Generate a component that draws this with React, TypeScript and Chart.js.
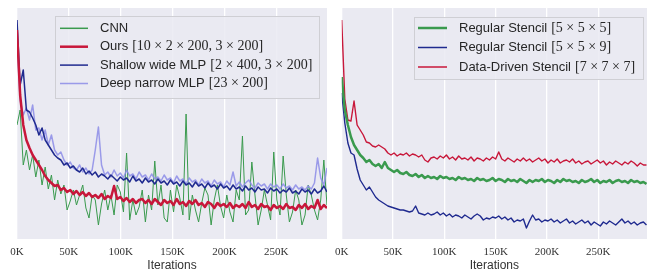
import React, { useEffect, useRef } from 'react';
import { Chart, registerables } from 'chart.js';
Chart.register(...registerables);

// ---------- tick labels / axis ----------
const xTicksK = [0, 50, 100, 150, 200, 250];
const xTitle = 'Iterations';
const leftMaxK = 299;
const rightMaxK = 297.5;
const leftStepK = 3.02;
const rightStepK = 3;

// ---------- left panel: legend labels ----------
const leftNames = ['CNN', 'Ours', 'Shallow wide MLP', 'Deep narrow MLP'];
const leftDims = ['', '[10 × 2 × 200, 3 × 200]', '[2 × 400, 3 × 200]', '[23 × 200]'];

// ---------- left panel: series (arbitrary loss units) ----------
const leftCNN = [
  114, 129, 74, 89, 69, 84, 62, 79, 54, 72,
  50, 64, 39, 59, 45, 54, 29, 38, 49, 34,
  44, 54, 31, 21, 44, 39, 14, 35, 49, 29,
  44, 24, 54, 47, 27, 86, 19, 39, 24, 32,
  49, 17, 44, 29, 78, 34, 54, 21, 17, 49,
  27, 54, 41, 24, 125, 19, 44, 29, 17, 36,
  51, 44, 14, 39, 54, 33, 21, 44, 27, 17,
  49, 39, 103, 24, 29, 77, 44, 14, 29, 49,
  34, 19, 87, 39, 24, 83, 44, 17, 27, 49,
  39, 14, 24, 54, 44, 29, 19, 39, 79, 34,
];
const leftOurs = [
  209, 144, 114, 99, 91, 84, 79, 74, 69, 63,
  59, 56, 53, 54, 49, 51, 47, 49, 45, 48,
  44, 47, 43, 46, 42, 44, 41, 45, 40, 43,
  41, 53, 40, 42, 38, 41, 37, 40, 36, 39,
  40, 36, 39, 35, 40, 37, 34, 39, 36, 38,
  34, 40, 35, 37, 33, 38, 35, 39, 34, 36,
  32, 37, 35, 31, 36, 33, 35, 32, 36, 31,
  34, 32, 35, 31, 37, 32, 34, 30, 35, 32,
  33, 29, 34, 31, 33, 30, 35, 31, 32, 29,
  34, 31, 35, 30, 33, 31, 39, 30, 34, 31,
];
const leftShallow = [
  219, 154, 169, 129, 127, 121, 114, 104, 111, 99,
  94, 89, 84, 81, 79, 74, 76, 71, 73, 69,
  67, 71, 65, 68, 64, 67, 62, 65, 63, 60,
  64, 61, 58, 62, 59, 61, 57, 63, 58, 60,
  56, 61, 57, 59, 55, 60, 56, 58, 54, 59,
  55, 57, 53, 58, 54, 56, 52, 57, 53, 55,
  51, 56, 52, 54, 50, 55, 51, 53, 49, 54,
  50, 52, 48, 53, 49, 51, 47, 52, 49, 50,
  46, 51, 48, 50, 46, 49, 47, 51, 46, 48,
  45, 50, 47, 49, 45, 50, 46, 48, 53, 47,
];
const leftDeep = [
  199, 139, 124, 131, 119, 134, 109, 111, 99, 109,
  94, 104, 89, 84, 87, 79, 74, 77, 71, 69,
  74, 67, 71, 65, 69, 89, 112, 74, 64, 67,
  62, 69, 63, 66, 61, 69, 63, 65, 60, 67,
  62, 64, 59, 65, 60, 62, 58, 64, 59, 61,
  56, 63, 58, 60, 55, 61, 57, 59, 54, 60,
  56, 58, 53, 59, 55, 57, 52, 58, 54, 67,
  53, 57, 52, 56, 59, 54, 51, 56, 53, 55,
  50, 55, 52, 54, 50, 55, 51, 53, 49, 54,
  50, 52, 49, 53, 50, 56, 81, 61, 54, 71,
];

// ---------- right panel: legend labels ----------
const rightNames = ['Regular Stencil', 'Regular Stencil', 'Data-Driven Stencil'];
const rightDims = ['[5 × 5 × 5]', '[5 × 5 × 9]', '[7 × 7 × 7]'];

// ---------- right panel: series ----------
const rightReg555 = [
  162, 129, 114, 102, 94, 89, 84, 81, 77, 79,
  75, 73, 75, 71, 77, 71, 69, 67, 69, 66,
  65, 67, 64, 63, 65, 62, 64, 61, 63, 61,
  62, 60, 63, 61, 62, 60, 61, 59, 62, 60,
  61, 59, 60, 58, 61, 59, 60, 58, 59, 61,
  58, 60, 59, 57, 60, 58, 59, 57, 60, 58,
  56, 59, 57, 59, 58, 60, 57, 59, 58, 56,
  59, 57, 60, 58, 59, 57, 58, 56, 59, 57,
  58, 60, 57, 59, 56, 58, 57, 59, 56, 58,
  59, 57, 58, 56, 59, 57, 58, 56, 57, 55,
];
const rightReg559 = [
  146, 116, 96, 86, 84, 70, 59, 54, 49, 52,
  47, 42, 39, 37, 35, 33, 32, 31, 30, 29,
  29, 28, 27, 28, 33, 26, 25, 24, 26, 24,
  25, 27, 24, 26, 23, 25, 22, 24, 23, 21,
  24, 22, 20, 23, 25, 23, 19, 21, 20, 22,
  21, 23, 20, 22, 19, 21, 17, 19, 18, 20,
  11, 18, 24, 19, 20, 17, 19, 18, 20, 17,
  19, 16, 18, 20, 16, 18, 15, 17, 19, 16,
  18, 14, 17, 15, 13, 17, 15, 18, 16, 14,
  17, 20, 16, 18, 15, 17, 14, 16, 17, 14,
];
const rightDataDriven = [
  219, 140, 119, 118, 138, 114, 109, 104, 97, 96,
  93, 92, 94, 92, 90, 86, 84, 86, 83, 85,
  84, 86, 83, 85, 84, 82, 84, 79, 77, 81,
  82, 80, 83, 81, 84, 80, 82, 79, 83, 80,
  81, 79, 82, 78, 81, 80, 78, 81, 79, 82,
  80, 87, 80, 78, 81, 79, 77, 80, 78, 81,
  78, 80, 77, 79, 81, 78, 80, 76, 79, 77,
  80, 76, 78, 79, 77, 80, 76, 78, 75, 77,
  78, 75, 77, 79, 76, 78, 74, 77, 75, 78,
  76, 74, 77, 75, 78, 76, 73, 76, 74, 74,
];

// ---------- colours ----------
const GREEN = '#3a9a4e';
const RED = '#c8173a';
const NAVY = '#1f2a8f';
const LAVENDER = 'rgba(140,140,232,0.85)';
const BG = '#EAEAF2';

const NAME_FONT = '13px "Liberation Sans", Arial, sans-serif';
const DIM_FONT = '14px "Liberation Serif", "Times New Roman", serif';

function toPoints(values: number[], step: number) {
  return values.map((v, i) => ({ x: i * step, y: v }));
}

const bgPlugin = {
  id: 'panelBg',
  beforeDraw(chart: any) {
    const { ctx, chartArea } = chart;
    ctx.save();
    ctx.fillStyle = BG;
    ctx.fillRect(chartArea.left, chartArea.top, chartArea.right - chartArea.left, chartArea.bottom - chartArea.top);
    ctx.restore();
  },
};

type LegendItem = { name: string; dims: string; color: string; width: number };
type LegendCfg = {
  dx: number; dy: number; height: number; padL: number; lineLen: number; gap: number;
  padR: number; firstRow: number; rowH: number; space: number;
};

function makeLegend(items: LegendItem[], cfg: LegendCfg) {
  return {
    id: 'boxLegend',
    afterDraw(chart: any) {
      const { ctx, chartArea } = chart;
      ctx.save();
      let maxW = 0;
      items.forEach((it) => {
        ctx.font = NAME_FONT;
        let w = ctx.measureText(it.name).width;
        if (it.dims) {
          ctx.font = DIM_FONT;
          w += cfg.space + ctx.measureText(it.dims).width;
        }
        maxW = Math.max(maxW, w);
      });
      const x0 = Math.round(chartArea.left + cfg.dx);
      const y0 = Math.round(chartArea.top + cfg.dy);
      const w = Math.round(cfg.padL + cfg.lineLen + cfg.gap + maxW + cfg.padR);
      ctx.fillStyle = 'rgba(234,234,242,0.85)';
      ctx.fillRect(x0, y0, w, cfg.height);
      ctx.strokeStyle = '#cfcfd4';
      ctx.lineWidth = 1;
      ctx.strokeRect(x0 + 0.5, y0 + 0.5, w, cfg.height);
      items.forEach((it, i) => {
        const cy = y0 + cfg.firstRow + i * cfg.rowH;
        ctx.strokeStyle = it.color;
        ctx.lineWidth = it.width;
        ctx.beginPath();
        ctx.moveTo(x0 + cfg.padL, cy);
        ctx.lineTo(x0 + cfg.padL + cfg.lineLen, cy);
        ctx.stroke();
        let tx = x0 + cfg.padL + cfg.lineLen + cfg.gap;
        ctx.fillStyle = '#262626';
        ctx.textBaseline = 'middle';
        ctx.textAlign = 'left';
        ctx.font = NAME_FONT;
        ctx.fillText(it.name, tx, cy);
        if (it.dims) {
          tx += ctx.measureText(it.name).width + cfg.space;
          ctx.font = DIM_FONT;
          ctx.fillText(it.dims, tx, cy);
        }
      });
      ctx.restore();
    },
  };
}

function makeOptions(maxK: number, padLeft: number, padRight: number) {
  return {
    animation: false,
    responsive: false,
    maintainAspectRatio: false,
    layout: { padding: { left: padLeft, right: padRight, top: 8, bottom: 0 } },
    plugins: { legend: { display: false }, tooltip: { enabled: false } },
    elements: { point: { radius: 0 }, line: { tension: 0, borderJoinStyle: 'round' } },
    scales: {
      x: {
        type: 'linear',
        min: 0,
        max: maxK,
        afterBuildTicks: (s: any) => {
          s.ticks = xTicksK.map((v) => ({ value: v }));
        },
        afterFit: (s: any) => {
          s.height = 34;
        },
        grid: { color: '#ffffff', lineWidth: 1.3, drawTicks: false },
        border: { display: false },
        ticks: {
          padding: 7,
          color: '#333333',
          autoSkip: false,
          maxRotation: 0,
          font: { family: '"Liberation Serif", "Times New Roman", serif', size: 11 },
          callback: (v: any) => `${v}K`,
        },
        title: {
          display: true,
          text: xTitle,
          color: '#333333',
          padding: { top: 0, bottom: 0 },
          font: { family: '"Liberation Sans", Arial, sans-serif', size: 12 },
        },
      },
      y: { display: false, min: 0, max: 231 },
    },
  };
}

export default function App() {
  const leftRef = useRef<HTMLCanvasElement | null>(null);
  const rightRef = useRef<HTMLCanvasElement | null>(null);

  useEffect(() => {
    const leftColors = [GREEN, RED, NAVY, LAVENDER];
    const leftWidths = [1, 2.5, 1.5, 1.5];
    const leftOrder = [3, 0, 1, 2];
    const leftData = [leftCNN, leftOurs, leftShallow, leftDeep];

    const left = new Chart(leftRef.current as HTMLCanvasElement, {
      type: 'line',
      data: {
        datasets: leftData.map((vals, i) => ({
          label: leftDims[i] ? `${leftNames[i]} ${leftDims[i]}` : leftNames[i],
          data: toPoints(vals, leftStepK),
          borderColor: leftColors[i],
          backgroundColor: leftColors[i],
          borderWidth: leftWidths[i],
          order: leftOrder[i],
          fill: false,
          clip: 0,
        })),
      },
      options: makeOptions(leftMaxK, 17, 1) as any,
      plugins: [
        bgPlugin,
        makeLegend(
          leftNames.map((n, i) => ({ name: n, dims: leftDims[i], color: leftColors[i], width: i === 1 ? 2.5 : 1.5 })),
          { dx: 38, dy: 8, height: 82, padL: 5, lineLen: 28, gap: 12, padR: 7, firstRow: 12.3, rowH: 18.4, space: 4 }
        ),
      ],
    } as any);

    const rightColors = [GREEN, NAVY, RED];
    const rightWidths = [2.5, 1.4, 1.4];
    const rightData = [rightReg555, rightReg559, rightDataDriven];

    const right = new Chart(rightRef.current as HTMLCanvasElement, {
      type: 'line',
      data: {
        datasets: rightData.map((vals, i) => ({
          label: `${rightNames[i]} ${rightDims[i]}`,
          data: toPoints(vals, rightStepK),
          borderColor: rightColors[i],
          backgroundColor: rightColors[i],
          borderWidth: rightWidths[i],
          fill: false,
          clip: 0,
        })),
      },
      options: makeOptions(rightMaxK, 12, 0) as any,
      plugins: [
        bgPlugin,
        makeLegend(
          rightNames.map((n, i) => ({ name: n, dims: rightDims[i], color: rightColors[i], width: i === 0 ? 2.5 : 1.5 })),
          { dx: 72, dy: 9, height: 62, padL: 4, lineLen: 29, gap: 12, padR: 8, firstRow: 11, rowH: 19.5, space: 4 }
        ),
      ],
    } as any);

    return () => {
      left.destroy();
      right.destroy();
    };
  }, []);

  return (
    <div style={{ position: 'fixed', left: 0, top: 0, width: 647, height: 273, background: '#ffffff' }}>
      <canvas ref={leftRef} width={328} height={273} style={{ position: 'absolute', left: 0, top: 0 }} />
      <canvas ref={rightRef} width={319} height={273} style={{ position: 'absolute', left: 328, top: 0 }} />
    </div>
  );
}
